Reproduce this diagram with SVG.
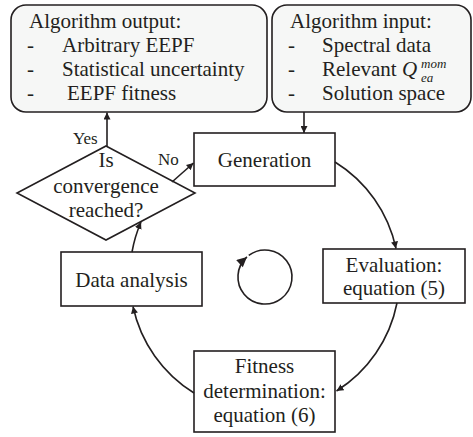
<svg xmlns="http://www.w3.org/2000/svg" width="473" height="437" viewBox="0 0 473 437" font-family="'Liberation Serif', 'DejaVu Serif', serif">
  <style>
    .box { fill: #ffffff; stroke: #231f20; stroke-width: 1.6; }
    .panel { fill: #f6f7f6; stroke: #231f20; stroke-width: 1.6; }
    text { font-family: 'Liberation Serif', 'DejaVu Serif', serif; font-size: 21px; fill: #231f20; }
    .c { text-anchor: middle; }
    .s { font-size: 17px; }
    .m { font-style: italic; }
    .idx { font-style: italic; font-size: 13px; }
    .link { fill: none; stroke: #231f20; stroke-width: 1.6; marker-end: url(#arrow); }
  </style>
  <defs>
    <marker id="arrow" viewBox="0 0 10 10" refX="10" refY="5" markerWidth="7" markerHeight="7" orient="auto" markerUnits="userSpaceOnUse">
      <path d="M0,0 L10,5 L0,10 z" fill="#231f20"/>
    </marker>
    <marker id="arrowBig" viewBox="0 0 10 10" refX="10" refY="5" markerWidth="12" markerHeight="10" orient="auto" markerUnits="userSpaceOnUse">
      <path d="M0,0 L10,5 L0,10 z" fill="#231f20"/>
    </marker>
  </defs>
  <rect width="473" height="437" fill="#ffffff"/>

  <g id="output">
    <rect class="panel" x="11" y="5" width="256" height="107" rx="15" ry="15"/>
    <text x="29" y="28">Algorithm output:</text>
    <text x="27" y="52">-</text>
    <text x="62" y="52">Arbitrary EEPF</text>
    <text x="27" y="76">-</text>
    <text x="62" y="76">Statistical uncertainty</text>
    <text x="27" y="100">-</text>
    <text x="67" y="100">EEPF fitness</text>
  </g>

  <g id="input">
    <rect class="panel" x="272" y="5" width="199" height="107" rx="15" ry="15"/>
    <text x="290" y="28">Algorithm input:</text>
    <text x="288" y="52">-</text>
    <text x="322" y="52">Spectral data</text>
    <text x="288" y="76">-</text>
    <text x="322" y="76">Relevant <tspan class="m">Q</tspan><tspan class="idx" x="421" y="68">mom</tspan><tspan class="idx" x="421" y="82">ea</tspan></text>
    <text x="288" y="100">-</text>
    <text x="322" y="100">Solution space</text>
  </g>

  <g id="generation">
    <rect class="box" x="194" y="133" width="141" height="53"/>
    <text class="c" x="264.5" y="167">Generation</text>
  </g>

  <g id="evaluation">
    <rect class="box" x="323" y="249" width="142" height="54"/>
    <text class="c" x="394" y="272">Evaluation:</text>
    <text class="c" x="394" y="295">equation (5)</text>
  </g>

  <g id="fitness">
    <rect class="box" x="194" y="351" width="141" height="81"/>
    <text class="c" x="264.5" y="373">Fitness</text>
    <text class="c" x="264.5" y="398">determination:</text>
    <text class="c" x="264.5" y="422">equation (6)</text>
  </g>

  <g id="analysis">
    <rect class="box" x="61" y="252" width="141" height="54"/>
    <text class="c" x="131.5" y="287">Data analysis</text>
  </g>

  <g id="decision">
    <polygon class="box" points="106,146 195,193 106,240 17,193"/>
    <text class="c" x="106" y="167">Is</text>
    <text class="c" x="106" y="193">convergence</text>
    <text class="c" x="106" y="217">reached?</text>
  </g>

  <g id="cycle">
    <path class="link" style="marker-end: url(#arrowBig)" d="M248.75,255.43 A27,27 0 0 1 281.25,298.57 A27,27 0 0 1 246.93,256.94"/>
  </g>

  <g id="connectors">
    <path class="link" d="M304,112 L304,133"/>
    <path class="link" d="M335,162 A135,135 0 0 1 396,248.5"/>
    <path class="link" d="M397,303 A135,135 0 0 1 336.5,391"/>
    <path class="link" d="M194,393 A135,135 0 0 1 133,306.5"/>
    <path class="link" d="M132,252 A135,135 0 0 1 141,222"/>
    <path class="link" d="M107,146 L107,112.5"/>
    <path class="link" d="M172,182 L193.5,163"/>
    <text class="s" x="73" y="144" style="font-size:17px">Yes</text>
    <text class="s" x="158" y="165" style="font-size:17px">No</text>
  </g>
</svg>
